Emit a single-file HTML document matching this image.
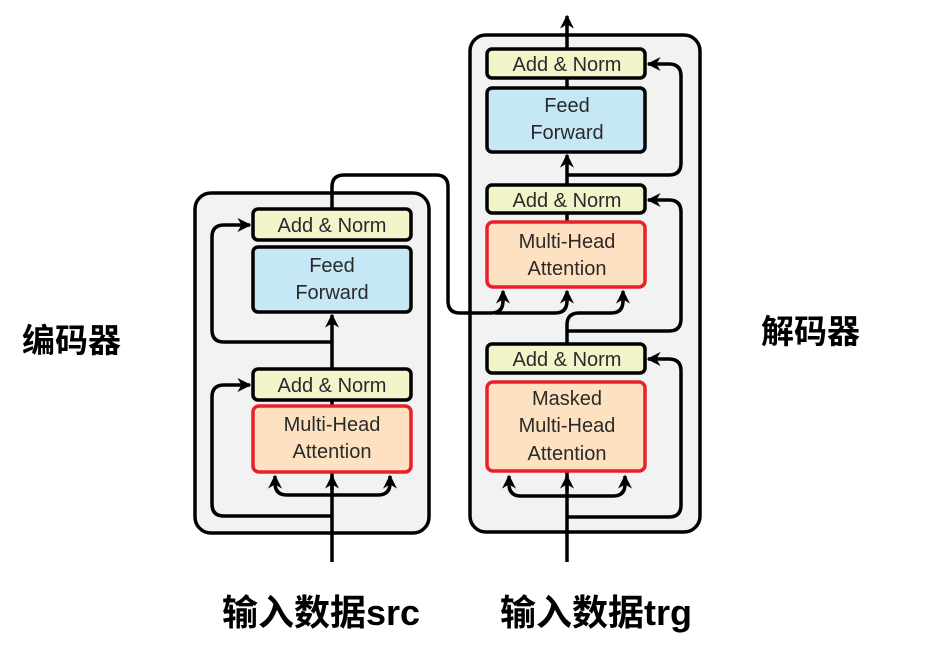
<!DOCTYPE html>
<html><head><meta charset="utf-8"><style>
html,body{margin:0;padding:0;background:#fff;}
svg{display:block;}
.t{font-family:"Liberation Sans",Helvetica,sans-serif;font-size:20px;fill:#2a2a2a;text-anchor:middle;}
.c{font-family:"Liberation Sans","Noto Sans CJK SC",sans-serif;font-weight:bold;fill:#000;}
.ln{fill:none;stroke:#000;stroke-width:3.5;stroke-linejoin:round;}
</style></head><body>
<svg width="946" height="665" viewBox="0 0 946 665" xmlns="http://www.w3.org/2000/svg">
<defs>
<marker id="ah" viewBox="0 0 10 10" refX="9" refY="5" markerWidth="4" markerHeight="4" orient="auto" markerUnits="strokeWidth">
<path d="M0,0 L10,5 L0,10 L3,5 z" fill="#000"/></marker>
</defs>
<!-- outer boxes -->
<rect x="195" y="193" width="234" height="340" rx="16" fill="#f2f2f2" stroke="#000" stroke-width="3.5"/>
<rect x="470" y="35" width="230" height="497" rx="16" fill="#f2f2f2" stroke="#000" stroke-width="3.5"/>

<!-- encoder lines -->
<path class="ln" d="M332,562 L332,400"/>
<path class="ln" d="M332,495 L287,495 Q275,495 275,483 L275,476" marker-end="url(#ah)"/>
<path class="ln" d="M332,495 L378,495 Q390,495 390,483 L390,476" marker-end="url(#ah)"/>
<path class="ln" d="M332,490 L332,476" marker-end="url(#ah)"/>
<path class="ln" d="M332,516 L224,516 Q212,516 212,504 L212,397 Q212,385 224,385 L250,385" marker-end="url(#ah)"/>
<path class="ln" d="M332,369 L332,315" marker-end="url(#ah)"/>
<path class="ln" d="M332,342 L224,342 Q212,342 212,330 L212,237 Q212,225 224,225 L250,225" marker-end="url(#ah)"/>
<path class="ln" d="M332,209 L332,187 Q332,175 344,175 L436,175 Q448,175 448,187 L448,301 Q448,313 460,313 L491,313 Q503,313 503,301 L503,291" marker-end="url(#ah)"/>
<path class="ln" d="M495,313 L555,313 Q567,313 567,301 L567,291" marker-end="url(#ah)"/>

<!-- decoder lines -->
<path class="ln" d="M567,562 L567,472"/>
<path class="ln" d="M567,496 L521,496 Q509,496 509,484 L509,476" marker-end="url(#ah)"/>
<path class="ln" d="M567,496 L613,496 Q625,496 625,484 L625,476" marker-end="url(#ah)"/>
<path class="ln" d="M567,490 L567,476" marker-end="url(#ah)"/>
<path class="ln" d="M567,517 L669,517 Q681,517 681,505 L681,371 Q681,359 669,359 L648,359" marker-end="url(#ah)"/>
<path class="ln" d="M567,344 L567,325 Q567,313 579,313 L611,313 Q623,313 623,301 L623,291" marker-end="url(#ah)"/>
<path class="ln" d="M567,331 L669,331 Q681,331 681,319 L681,212 Q681,200 669,200 L648,200" marker-end="url(#ah)"/>
<path class="ln" d="M567,185 L567,155" marker-end="url(#ah)"/>
<path class="ln" d="M567,175 L669,175 Q681,175 681,163 L681,76 Q681,64 669,64 L648,64" marker-end="url(#ah)"/>
<path class="ln" d="M567,88 L567,78"/>
<path class="ln" d="M567,49 L567,16" marker-end="url(#ah)"/>
<path class="ln" d="M567,222 L567,212"/>

<!-- encoder blocks -->
<rect x="253" y="209" width="158" height="31" rx="5" fill="#f3f4c9" stroke="#000" stroke-width="3.5"/>
<text class="t" x="332" y="232">Add &amp; Norm</text>
<rect x="253" y="247" width="158" height="65" rx="5" fill="#c5e7f6" stroke="#000" stroke-width="3.5"/>
<text class="t" x="332" y="272">Feed</text><text class="t" x="332" y="299">Forward</text>
<rect x="253" y="369" width="158" height="31" rx="5" fill="#f3f4c9" stroke="#000" stroke-width="3.5"/>
<text class="t" x="332" y="392">Add &amp; Norm</text>
<rect x="253" y="406" width="158" height="66" rx="6" fill="#fde1c0" stroke="#e8202a" stroke-width="3.5"/>
<text class="t" x="332" y="431">Multi-Head</text><text class="t" x="332" y="458">Attention</text>

<!-- decoder blocks -->
<rect x="487" y="49" width="158" height="29" rx="5" fill="#f3f4c9" stroke="#000" stroke-width="3.5"/>
<text class="t" x="567" y="71">Add &amp; Norm</text>
<rect x="487" y="88" width="158" height="64" rx="5" fill="#c5e7f6" stroke="#000" stroke-width="3.5"/>
<text class="t" x="567" y="112">Feed</text><text class="t" x="567" y="139">Forward</text>
<rect x="487" y="185" width="158" height="28" rx="5" fill="#f3f4c9" stroke="#000" stroke-width="3.5"/>
<text class="t" x="567" y="207">Add &amp; Norm</text>
<rect x="487" y="222" width="158" height="65" rx="6" fill="#fde1c0" stroke="#e8202a" stroke-width="3.5"/>
<text class="t" x="567" y="248">Multi-Head</text><text class="t" x="567" y="275">Attention</text>
<rect x="487" y="344" width="158" height="29" rx="5" fill="#f3f4c9" stroke="#000" stroke-width="3.5"/>
<text class="t" x="567" y="366">Add &amp; Norm</text>
<rect x="487" y="382" width="158" height="89" rx="6" fill="#fde1c0" stroke="#e8202a" stroke-width="3.5"/>
<text class="t" x="567" y="405">Masked</text><text class="t" x="567" y="432">Multi-Head</text><text class="t" x="567" y="460">Attention</text>

<!-- labels -->
<text class="c" x="22" y="352" font-size="33">编码器</text>
<text class="c" x="761" y="343" font-size="33">解码器</text>
<text class="c" x="222" y="625" font-size="36">输入数据src</text>
<text class="c" x="500" y="625" font-size="36">输入数据trg</text>
</svg>
</body></html>
